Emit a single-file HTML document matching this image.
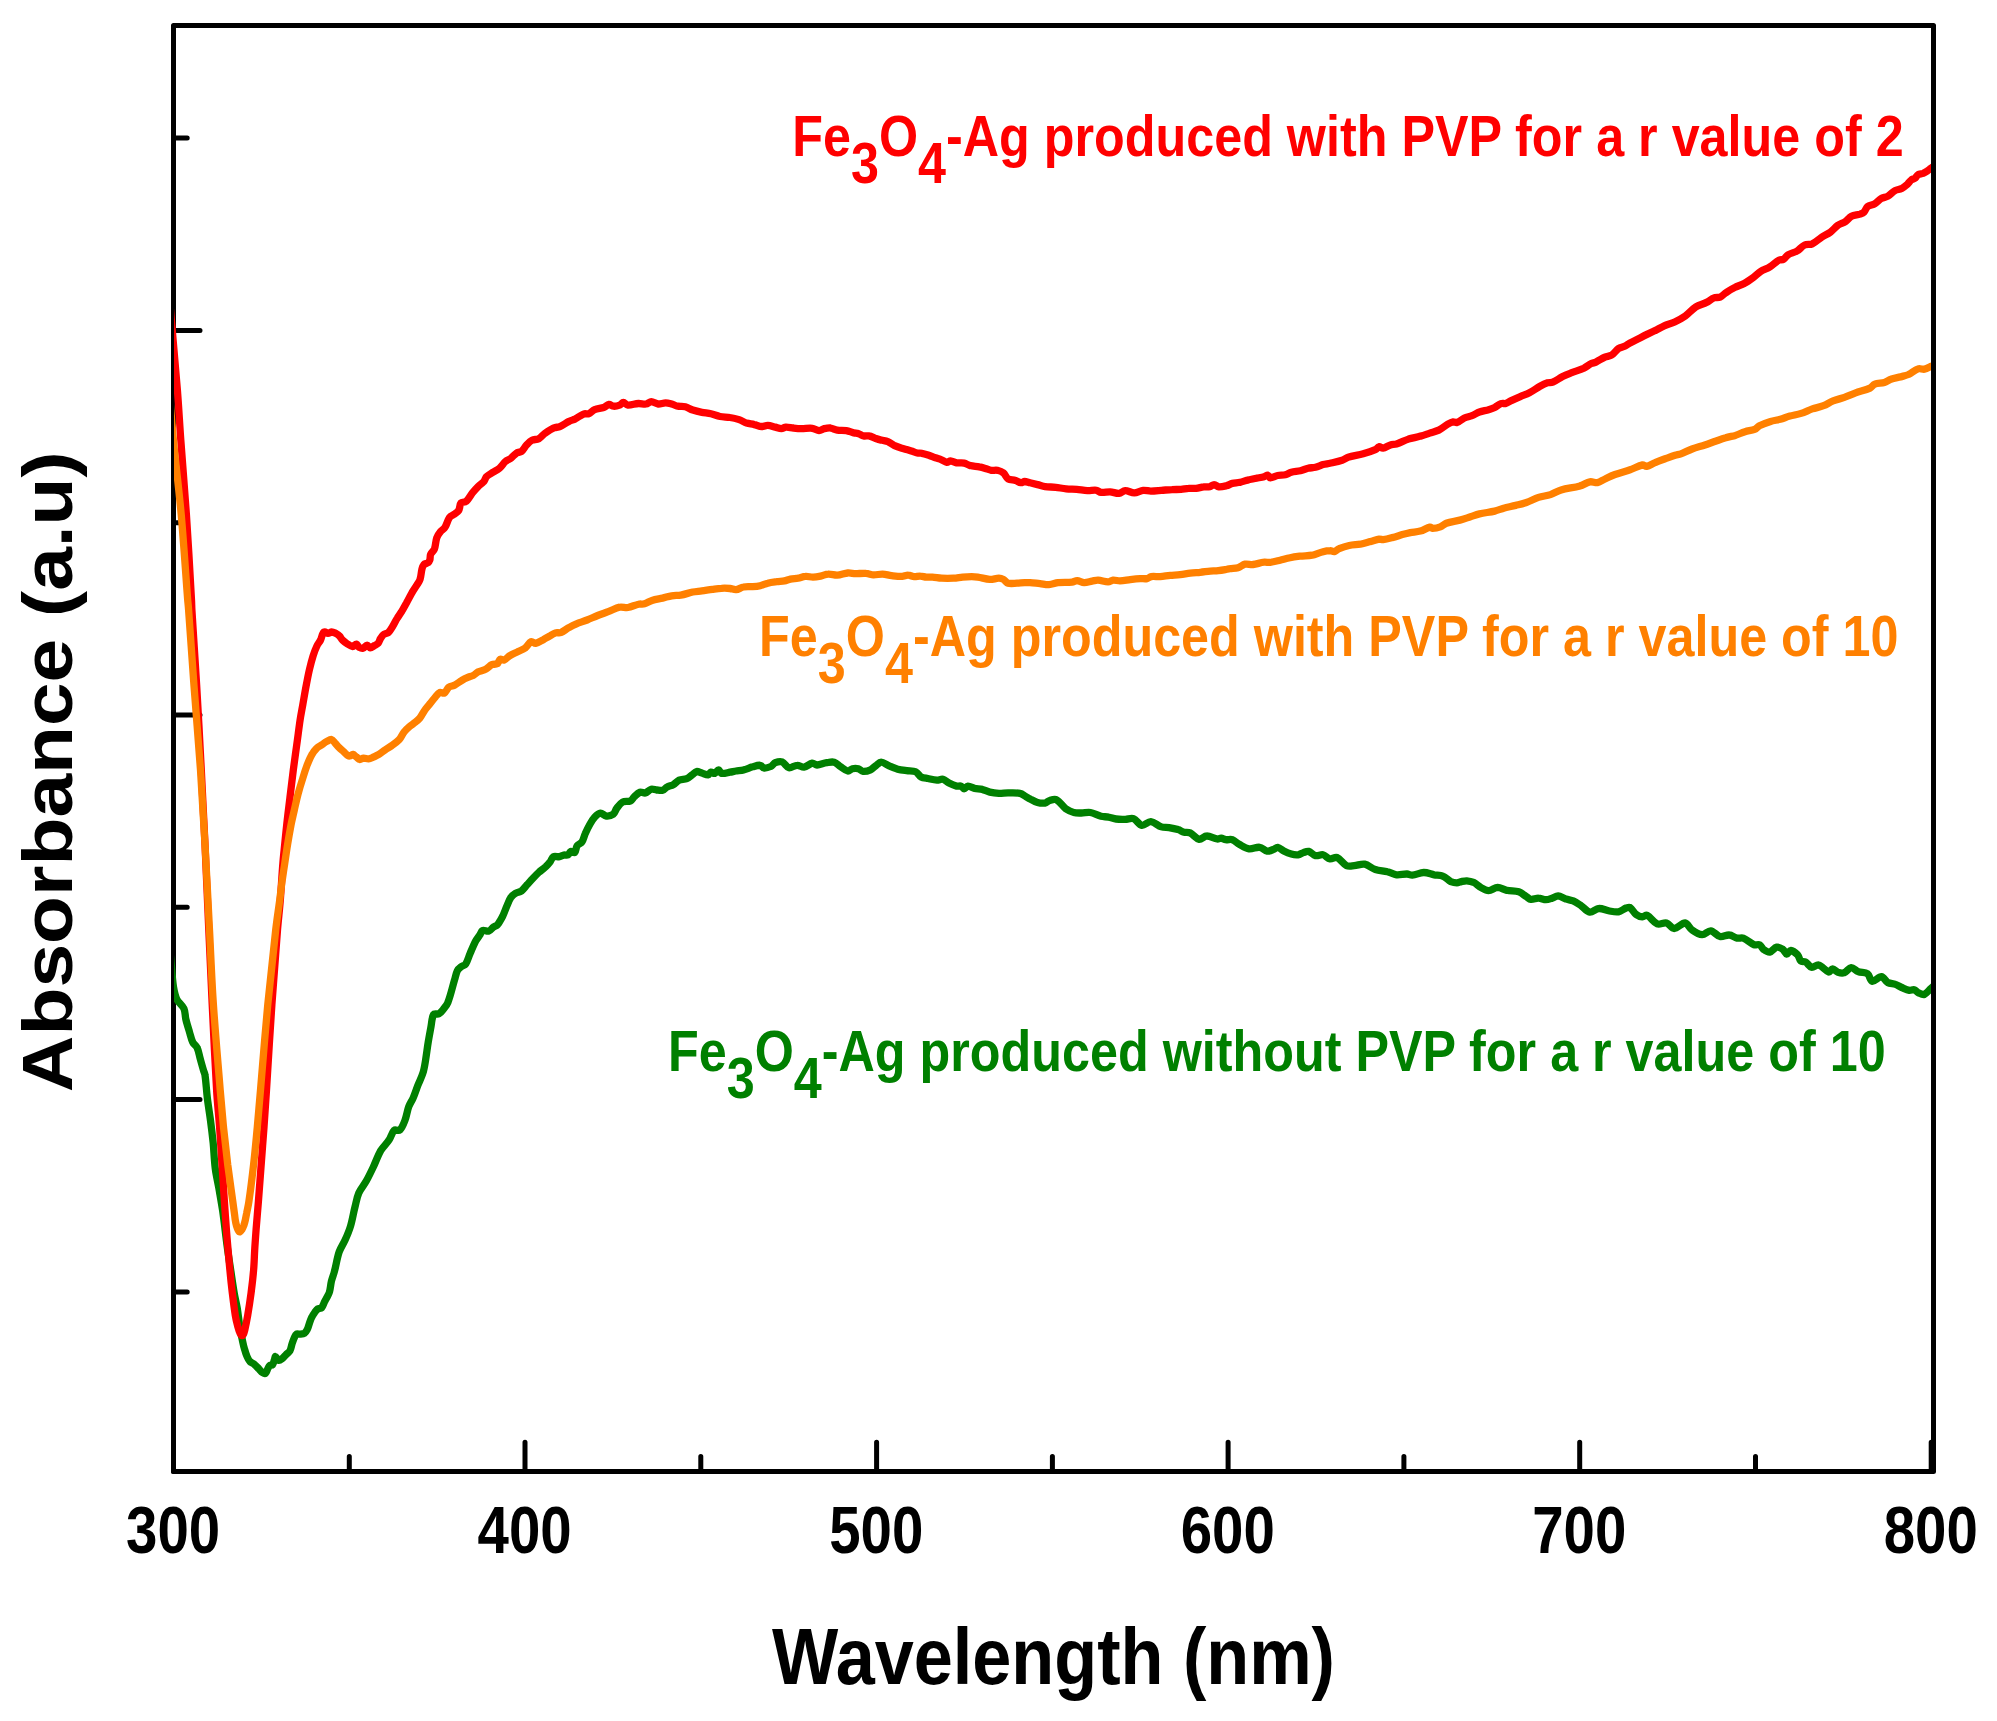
<!DOCTYPE html>
<html lang="en"><head><meta charset="utf-8"><title>UV-Vis absorbance of Fe3O4-Ag</title>
<style>html,body{margin:0;padding:0;background:#fff;}body{width:1997px;height:1721px;overflow:hidden;}svg{display:block;}text{font-family:"Liberation Sans",Arial,Helvetica,sans-serif;font-weight:bold;}</style>
</head><body>
<svg width="1997" height="1721" viewBox="0 0 1997 1721">
<rect x="0" y="0" width="1997" height="1721" fill="#fff"/>
<defs><clipPath id="plot"><rect x="174" y="26" width="1757" height="1445"/></clipPath></defs>
<rect x="173.5" y="25.5" width="1760.0" height="1446.0" fill="none" stroke="#000" stroke-width="5" stroke-linejoin="round"/>
<path d="M173.5,138.1 H187.2 M173.5,330.4 H200.0 M173.5,522.7 H187.2 M173.5,715.0 H200.0 M173.5,907.3 H187.2 M173.5,1099.6 H200.0 M173.5,1291.9 H187.2 M173.5,1471.5 V1442.3 M349.3,1471.5 V1456.4 M525.0,1471.5 V1442.3 M700.8,1471.5 V1456.4 M876.6,1471.5 V1442.3 M1052.4,1471.5 V1456.4 M1228.1,1471.5 V1442.3 M1403.9,1471.5 V1456.4 M1579.7,1471.5 V1442.3 M1755.5,1471.5 V1456.4 M1931.2,1471.5 V1442.3" fill="none" stroke="#000" stroke-width="5" stroke-linecap="round"/>
<path clip-path="url(#plot)" d="M168.2,938.1 C169.1,944.9 170.0,951.7 170.7,958.5 C171.7,968.0 172.1,977.6 173.5,987.0 C174.2,991.1 175.0,995.4 176.8,999.2 C178.5,1002.6 182.3,1005.0 183.9,1008.5 C185.4,1011.8 185.0,1015.9 185.9,1019.5 C186.9,1023.6 188.2,1027.7 189.4,1031.7 C190.5,1035.3 191.2,1039.0 192.8,1042.3 C193.8,1044.3 196.2,1045.5 197.1,1047.6 C198.7,1051.0 199.1,1054.9 200.2,1058.6 C201.2,1062.4 202.3,1066.2 203.4,1070.0 C203.9,1071.7 204.8,1073.4 205.0,1075.1 C206.1,1082.6 206.4,1090.3 207.3,1097.8 C208.2,1105.4 209.5,1112.9 210.5,1120.4 C211.5,1128.0 212.4,1135.5 213.2,1143.1 C214.0,1151.7 214.2,1160.3 215.3,1168.8 C216.1,1175.4 217.8,1181.9 218.9,1188.4 C220.2,1196.0 221.6,1203.5 222.7,1211.1 C224.3,1222.4 225.5,1233.7 227.0,1245.0 C228.1,1253.3 229.4,1261.7 230.7,1270.0 C231.9,1278.0 233.0,1286.1 234.4,1294.1 C235.2,1298.7 236.4,1303.2 237.2,1307.8 C238.2,1314.0 238.8,1320.4 239.8,1326.6 C240.6,1331.7 241.6,1336.7 242.7,1341.8 C243.2,1344.3 243.8,1346.8 244.6,1349.3 C245.3,1351.9 246.1,1354.4 247.2,1356.9 C247.9,1358.5 248.7,1360.2 249.8,1361.4 C251.1,1362.7 253.0,1363.3 254.4,1364.4 C256.0,1365.8 257.4,1367.4 258.9,1368.9 C260.2,1370.2 261.2,1371.8 262.7,1372.7 C263.5,1373.2 265.1,1373.6 265.7,1373.1 C266.8,1372.1 267.1,1369.8 268.0,1368.2 C268.5,1367.2 269.0,1366.0 269.9,1365.3 C270.5,1364.8 272.0,1365.4 272.5,1364.8 C273.5,1363.6 273.8,1361.5 274.4,1359.9 C274.8,1358.8 274.9,1356.4 275.5,1356.5 C276.3,1356.6 277.3,1359.8 278.6,1360.3 C279.5,1360.6 281.0,1359.5 281.9,1358.8 C283.5,1357.6 284.7,1356.0 286.1,1354.6 C287.4,1353.3 289.0,1352.3 289.9,1350.8 C291.1,1348.7 291.3,1346.0 292.1,1343.6 C292.8,1341.6 293.5,1339.6 294.4,1337.6 C294.9,1336.4 295.3,1334.7 296.3,1334.2 C297.3,1333.6 299.1,1334.4 300.4,1334.2 C301.9,1334.0 303.5,1333.8 304.6,1333.1 C305.7,1332.3 306.6,1330.9 307.2,1329.7 C308.3,1327.5 308.7,1325.1 309.5,1322.9 C310.2,1321.0 310.9,1319.0 311.8,1317.2 C312.6,1315.5 313.7,1313.8 314.8,1312.3 C315.7,1311.1 316.6,1309.7 317.8,1308.9 C318.9,1308.2 320.8,1308.6 321.6,1307.8 C323.0,1306.2 323.6,1303.7 324.6,1301.7 C325.6,1299.8 326.7,1298.0 327.6,1296.1 C328.3,1294.7 329.2,1293.4 329.5,1291.9 C330.4,1288.5 330.6,1284.8 331.4,1281.3 C332.2,1278.0 333.6,1274.8 334.4,1271.5 C336.2,1265.0 337.0,1258.2 339.2,1251.8 C340.6,1247.6 343.4,1243.9 345.2,1239.8 C347.2,1235.3 349.1,1230.8 350.5,1226.2 C352.4,1219.7 353.4,1213.0 355.1,1206.5 C356.2,1202.0 356.9,1197.2 358.8,1192.9 C360.7,1188.6 364.1,1185.0 366.4,1180.8 C368.8,1176.4 371.0,1171.8 373.2,1167.2 C375.8,1161.8 377.7,1155.9 380.7,1150.6 C383.0,1146.8 386.6,1143.8 389.0,1140.1 C391.1,1137.0 391.9,1132.5 394.3,1130.2 C395.5,1129.2 398.5,1131.3 399.6,1130.2 C402.0,1128.0 403.6,1123.9 404.9,1120.4 C406.6,1116.1 407.1,1111.2 408.7,1106.8 C409.8,1103.7 411.9,1100.9 413.2,1097.8 C414.9,1093.8 416.2,1089.7 417.7,1085.7 C419.4,1081.4 421.7,1077.2 423.0,1072.8 C424.3,1068.7 424.9,1064.3 425.6,1060.0 C426.6,1053.9 427.3,1047.8 428.3,1041.7 C429.1,1036.6 430.1,1031.6 431.0,1026.6 C431.8,1022.5 431.8,1017.5 433.6,1014.5 C434.4,1013.2 437.4,1014.6 438.9,1013.8 C440.7,1012.8 442.1,1010.9 443.4,1009.2 C445.1,1007.1 447.0,1004.9 447.9,1002.4 C450.7,995.2 452.3,987.5 454.5,980.0 C455.5,976.9 456.0,973.4 457.4,970.6 C458.3,968.9 460.0,967.7 461.5,966.5 C462.7,965.6 464.8,965.5 465.6,964.2 C467.7,961.0 468.6,956.8 470.2,953.2 C471.9,949.3 473.5,945.3 475.4,941.5 C476.7,939.1 478.6,936.9 480.1,934.6 C480.9,933.2 481.2,931.0 482.4,930.5 C484.1,929.8 486.9,931.7 488.8,931.1 C490.6,930.5 491.8,928.2 493.5,927.0 C494.7,926.1 496.5,925.8 497.5,924.7 C499.6,922.2 501.2,919.0 502.8,916.0 C504.3,912.8 505.4,909.4 506.8,906.1 C508.1,903.2 509.1,900.0 510.9,897.4 C512.0,895.7 513.8,894.4 515.5,893.3 C517.3,892.2 519.7,892.2 521.4,891.0 C523.6,889.3 525.2,886.7 527.2,884.6 C529.1,882.5 531.0,880.3 533.0,878.2 C534.9,876.2 536.8,874.2 538.8,872.4 C541.0,870.4 543.6,868.7 545.8,866.6 C547.4,865.0 549.0,863.2 550.4,861.4 C551.5,859.9 551.9,857.4 553.3,856.7 C555.0,855.9 557.6,857.0 559.7,856.7 C561.1,856.5 562.4,855.3 563.8,855.0 C565.1,854.7 566.7,855.5 567.8,855.0 C569.1,854.3 569.5,851.9 570.7,851.5 C571.9,851.1 574.0,853.3 574.8,852.6 C576.2,851.4 575.8,847.6 577.1,845.7 C578.2,844.1 580.7,843.7 581.8,842.2 C583.5,839.7 584.0,836.3 585.3,833.5 C586.7,830.3 588.2,827.2 589.9,824.2 C591.3,821.7 592.7,819.2 594.6,817.2 C596.2,815.5 598.3,813.3 600.4,813.1 C602.2,812.9 604.2,815.8 606.2,816.0 C608.4,816.2 611.4,815.6 613.2,814.3 C614.9,813.1 615.3,810.3 616.6,808.5 C618.4,806.2 620.1,803.4 622.5,802.1 C624.7,800.9 628.2,802.0 630.6,800.9 C632.1,800.2 632.8,798.1 634.1,796.9 C635.9,795.2 637.8,793.0 640.0,792.2 C641.5,791.7 643.7,793.4 645.3,793.0 C647.4,792.4 649.1,789.8 651.3,789.2 C652.9,788.8 654.8,789.8 656.6,790.0 C658.6,790.2 660.8,790.8 662.6,790.3 C664.3,789.8 665.5,787.8 667.2,787.0 C669.0,786.0 671.3,785.7 673.2,784.7 C675.4,783.5 677.0,781.1 679.2,780.1 C681.5,779.1 684.5,779.6 686.8,778.6 C688.8,777.8 690.3,776.1 692.1,774.9 C693.6,773.8 695.0,771.8 696.6,771.5 C698.2,771.2 700.1,772.5 701.9,773.0 C703.9,773.6 706.1,775.0 708.0,774.9 C709.1,774.7 709.8,772.4 711.0,772.1 C712.1,771.9 713.6,773.7 714.7,773.4 C716.1,773.0 717.3,770.0 718.5,770.0 C719.6,770.0 720.2,773.1 721.5,773.4 C724.0,773.8 727.2,772.7 730.0,772.2 C732.0,771.9 734.0,771.3 736.0,771.0 C738.5,770.6 741.1,770.6 743.6,769.9 C746.7,769.2 749.6,767.6 752.7,766.8 C755.1,766.1 757.9,765.0 760.2,765.3 C761.6,765.4 762.6,767.8 764.0,768.0 C766.1,768.2 768.7,767.4 770.8,766.5 C772.5,765.7 773.6,763.4 775.3,762.7 C777.3,761.9 780.1,761.2 782.1,761.9 C784.7,762.9 786.4,767.1 788.9,767.7 C791.4,768.2 794.4,765.3 797.2,765.3 C799.5,765.2 801.8,767.5 804.0,767.2 C806.9,766.8 809.5,763.6 812.3,763.1 C813.8,762.9 815.3,765.0 816.9,765.0 C820.1,764.8 823.4,763.2 826.7,762.7 C829.2,762.3 831.9,761.6 834.2,762.2 C836.5,762.9 838.2,765.1 840.3,766.5 C842.7,768.1 845.3,770.5 847.8,771.0 C849.3,771.3 850.7,769.1 852.4,768.7 C854.3,768.3 856.5,768.3 858.4,768.7 C860.0,769.1 861.3,771.2 862.9,771.3 C865.3,771.5 868.2,770.8 870.5,769.8 C872.5,768.9 874.0,767.0 875.8,765.7 C877.5,764.5 879.2,762.2 881.1,762.2 C883.5,762.2 886.1,764.6 888.6,765.7 C891.6,767.0 894.6,768.3 897.7,769.2 C900.6,770.0 903.7,770.3 906.7,770.7 C909.7,771.1 913.2,770.6 915.8,771.8 C918.0,772.7 919.0,775.9 921.1,777.0 C923.0,778.1 925.6,778.1 927.9,778.5 C930.9,779.1 933.9,779.9 937.0,780.1 C939.0,780.2 941.1,778.8 943.0,779.3 C945.2,779.9 946.9,782.0 949.0,783.1 C951.4,784.3 954.0,785.5 956.6,786.1 C958.0,786.5 959.8,785.6 961.1,786.1 C962.3,786.5 963.1,788.8 964.1,788.8 C965.4,788.8 966.5,786.2 967.9,786.1 C970.1,786.0 972.4,787.8 974.7,788.4 C977.2,788.9 979.8,788.8 982.3,789.4 C984.9,790.1 987.2,791.5 989.8,792.1 C992.8,792.8 995.8,793.2 998.9,793.4 C1001.9,793.5 1004.9,792.9 1008.0,792.9 C1012.0,792.9 1016.2,792.5 1020.0,793.4 C1022.2,793.8 1024.1,795.6 1026.1,796.7 C1027.4,797.4 1028.6,798.3 1030.0,798.9 C1032.5,800.2 1034.9,801.7 1037.5,802.4 C1040.0,803.1 1042.7,803.4 1045.1,803.0 C1046.8,802.8 1048.0,800.9 1049.6,800.5 C1051.8,799.8 1054.6,798.7 1056.4,799.7 C1060.1,801.6 1062.7,806.4 1066.2,809.1 C1068.5,810.7 1071.2,811.9 1073.8,812.5 C1076.2,813.2 1078.8,813.0 1081.4,813.0 C1084.4,813.0 1087.5,812.0 1090.4,812.5 C1094.0,813.2 1097.4,815.4 1101.0,816.3 C1103.4,816.9 1106.1,816.6 1108.5,817.1 C1111.1,817.5 1113.5,818.7 1116.1,819.0 C1119.1,819.4 1122.2,819.4 1125.2,819.3 C1127.9,819.3 1131.1,817.7 1133.5,818.6 C1136.6,819.7 1138.8,824.9 1141.8,825.4 C1144.5,825.9 1147.9,821.4 1150.8,821.6 C1154.4,821.9 1157.7,825.7 1161.4,826.9 C1163.8,827.7 1166.5,827.2 1169.0,827.6 C1172.0,828.1 1175.1,828.7 1178.0,829.6 C1180.1,830.2 1182.0,831.6 1184.1,832.2 C1186.0,832.7 1188.3,832.1 1190.1,832.9 C1193.4,834.5 1196.0,838.7 1199.2,839.3 C1201.5,839.7 1204.1,836.0 1206.7,836.0 C1210.2,835.9 1213.8,838.4 1217.3,839.0 C1218.6,839.2 1219.9,838.1 1221.1,838.2 C1222.6,838.4 1224.1,839.5 1225.6,839.7 C1227.8,840.0 1230.4,839.0 1232.4,839.7 C1234.9,840.6 1236.8,843.0 1239.2,844.3 C1242.4,846.0 1245.6,848.3 1249.0,848.8 C1252.4,849.3 1256.2,846.9 1259.6,847.3 C1262.3,847.6 1264.6,850.6 1267.2,851.1 C1269.1,851.4 1271.3,850.2 1273.2,849.5 C1274.8,849.0 1276.3,847.1 1277.7,847.3 C1279.8,847.6 1281.7,850.0 1283.8,851.1 C1286.2,852.3 1288.7,853.4 1291.3,854.1 C1293.5,854.7 1295.9,855.1 1298.1,854.8 C1300.0,854.6 1301.6,853.2 1303.4,852.6 C1305.1,852.0 1307.1,851.0 1308.7,851.4 C1311.1,852.0 1313.0,855.0 1315.5,855.6 C1317.8,856.2 1320.7,854.3 1323.0,854.8 C1325.5,855.4 1327.5,858.5 1330.0,858.9 C1332.1,859.3 1334.9,856.6 1336.8,857.4 C1340.4,858.9 1343.0,864.0 1346.6,865.7 C1348.8,866.7 1351.7,865.9 1354.2,865.7 C1357.7,865.4 1361.4,863.6 1364.7,864.2 C1368.4,864.9 1371.6,868.3 1375.3,869.5 C1379.2,870.8 1383.4,870.8 1387.4,871.8 C1390.5,872.5 1393.4,874.4 1396.5,874.8 C1399.9,875.2 1403.5,873.9 1407.0,874.0 C1408.8,874.1 1410.6,875.4 1412.3,875.2 C1416.1,874.9 1419.9,872.6 1423.7,872.5 C1427.2,872.4 1430.7,874.1 1434.2,874.8 C1437.2,875.3 1440.5,875.1 1443.3,876.3 C1446.1,877.4 1448.1,880.3 1450.8,881.6 C1452.7,882.4 1454.9,882.8 1456.9,882.8 C1458.4,882.8 1459.9,881.9 1461.4,881.6 C1463.2,881.2 1465.0,880.7 1466.7,880.8 C1469.0,881.0 1471.4,881.4 1473.5,882.3 C1476.2,883.6 1478.4,886.1 1481.1,887.6 C1483.4,888.9 1486.1,890.7 1488.6,890.6 C1491.6,890.6 1494.6,887.4 1497.7,887.3 C1500.7,887.3 1503.6,889.7 1506.7,890.3 C1510.7,891.2 1515.1,890.6 1518.8,891.8 C1521.6,892.7 1523.8,895.1 1526.4,896.7 C1527.9,897.6 1529.3,899.2 1530.9,899.4 C1533.3,899.7 1536.0,898.1 1538.5,898.2 C1541.0,898.2 1543.5,899.7 1546.0,899.7 C1548.0,899.7 1550.1,898.8 1552.0,898.2 C1554.1,897.5 1556.1,895.8 1558.1,895.9 C1560.6,896.1 1563.1,898.1 1565.7,898.9 C1568.1,899.8 1570.8,899.9 1573.2,900.9 C1575.9,902.1 1578.3,903.8 1580.8,905.4 C1583.9,907.5 1586.6,911.5 1589.8,912.1 C1592.6,912.5 1595.8,908.6 1598.9,908.5 C1602.3,908.3 1605.9,910.4 1609.5,911.0 C1612.4,911.5 1615.6,912.3 1618.5,911.8 C1621.2,911.3 1623.5,909.0 1626.1,908.0 C1627.3,907.6 1629.0,906.9 1630.0,907.5 C1632.4,909.1 1633.8,912.7 1636.2,914.5 C1637.9,915.8 1640.3,916.7 1642.4,916.8 C1644.0,917.0 1645.7,914.7 1647.1,915.3 C1650.7,917.0 1653.4,922.3 1657.2,923.8 C1659.8,924.9 1663.7,922.3 1666.5,923.0 C1669.3,923.8 1671.5,928.5 1674.2,928.5 C1677.7,928.5 1681.8,922.8 1685.1,923.0 C1687.8,923.3 1689.4,928.2 1692.1,930.0 C1695.1,932.1 1698.8,934.5 1702.2,934.7 C1705.0,934.8 1708.0,930.5 1710.7,930.8 C1713.9,931.1 1716.7,935.8 1720.0,936.5 C1722.9,937.2 1726.3,934.7 1729.3,935.0 C1732.0,935.2 1734.4,937.5 1737.1,938.1 C1739.1,938.6 1741.5,937.4 1743.3,938.1 C1747.1,939.6 1750.4,943.2 1754.2,944.8 C1755.8,945.4 1758.2,944.0 1759.6,944.8 C1761.3,945.6 1761.9,948.3 1763.5,949.4 C1765.3,950.7 1767.8,952.4 1769.7,952.1 C1772.2,951.6 1774.2,947.6 1776.7,947.1 C1778.6,946.7 1781.1,948.2 1782.9,949.4 C1784.5,950.6 1785.4,953.9 1786.8,954.1 C1788.0,954.3 1789.2,950.4 1790.7,950.5 C1792.9,950.7 1795.8,953.0 1797.7,954.9 C1799.2,956.5 1799.2,959.7 1800.8,961.1 C1801.8,962.0 1804.1,961.1 1805.4,961.9 C1807.7,963.2 1809.3,966.7 1811.6,967.3 C1813.7,967.8 1816.5,964.4 1818.6,965.0 C1822.2,965.9 1825.4,971.0 1828.7,972.0 C1830.0,972.3 1831.2,968.8 1832.6,968.8 C1834.3,968.9 1836.0,971.6 1838.0,972.3 C1839.9,972.9 1842.4,973.4 1844.2,972.7 C1846.8,971.8 1848.8,967.8 1851.2,967.6 C1853.4,967.4 1855.7,970.7 1858.2,971.6 C1861.1,972.8 1865.1,972.1 1867.5,973.8 C1869.7,975.3 1870.0,980.8 1872.2,981.3 C1874.7,981.8 1878.6,976.4 1881.5,976.6 C1883.8,976.8 1885.3,981.2 1887.7,982.5 C1889.9,983.8 1893.0,983.5 1895.5,984.4 C1897.6,985.1 1899.5,986.6 1901.7,987.5 C1904.2,988.5 1906.8,989.8 1909.4,990.3 C1910.9,990.5 1912.7,989.4 1914.1,989.8 C1915.8,990.3 1917.1,992.1 1918.7,992.9 C1920.4,993.7 1922.6,995.0 1924.2,994.5 C1926.7,993.5 1928.8,990.3 1931.2,988.2 C1933.1,986.5 1935.0,984.8 1937.0,983.1" fill="none" stroke="#008000" stroke-width="7.3" stroke-linejoin="round" stroke-linecap="butt"/>
<path clip-path="url(#plot)" d="M166.0,257.5 C167.4,274.3 168.9,291.0 170.3,307.8 C172.7,335.2 175.2,362.6 177.4,390.0 C178.7,406.7 179.6,423.3 180.8,440.0 C182.6,464.8 184.7,489.6 186.4,514.4 C188.3,542.9 189.9,571.5 191.5,600.0 C191.7,603.3 191.7,606.7 191.9,610.0 C193.4,634.8 195.1,659.6 196.6,684.4 C198.3,712.9 199.8,741.5 201.3,770.0 C202.6,794.8 203.8,819.6 205.0,844.4 C206.3,872.9 207.5,901.5 208.8,930.0 C209.9,954.8 211.0,979.6 212.2,1004.4 C213.6,1032.9 214.9,1061.5 216.6,1090.0 C217.3,1102.4 218.7,1114.8 219.6,1127.2 C220.5,1139.6 221.2,1152.0 222.0,1164.4 C222.8,1176.8 223.6,1189.2 224.4,1201.6 C225.0,1210.9 225.7,1220.1 226.4,1229.4 C226.9,1236.3 227.5,1243.1 228.1,1250.0 C228.7,1256.7 229.2,1263.3 229.9,1270.0 C230.6,1277.6 231.4,1285.1 232.3,1292.7 C233.2,1300.2 234.1,1307.8 235.3,1315.3 C235.9,1319.1 236.8,1322.9 237.8,1326.6 C238.4,1328.9 239.1,1331.4 240.2,1333.5 C240.6,1334.4 241.6,1335.6 242.3,1335.7 C242.8,1335.8 243.3,1334.6 243.6,1334.0 C244.1,1332.9 244.4,1331.6 244.7,1330.4 C245.8,1325.4 246.8,1320.4 247.7,1315.3 C249.0,1307.8 250.1,1300.3 251.1,1292.7 C252.1,1285.2 253.0,1277.6 253.6,1270.0 C254.2,1263.3 254.3,1256.7 254.7,1250.0 C255.1,1243.1 255.6,1236.3 256.1,1229.4 C256.8,1220.1 257.7,1210.9 258.4,1201.6 C259.4,1189.2 260.3,1176.8 261.2,1164.4 C262.1,1152.0 263.1,1139.6 264.0,1127.2 C264.9,1114.8 265.7,1102.4 266.5,1090.0 C268.3,1061.5 269.9,1032.9 271.9,1004.4 C273.6,979.6 275.5,954.8 277.5,930.0 C278.3,920.0 279.5,910.1 280.3,900.1 C281.3,887.7 281.9,875.4 282.9,863.0 C283.4,856.8 284.1,850.6 284.7,844.4 C285.3,838.2 285.9,832.0 286.6,825.8 C287.6,816.5 288.8,807.2 289.9,797.9 C291.0,788.6 292.1,779.3 293.3,770.0 C294.0,764.8 294.7,759.6 295.4,754.4 C296.1,749.6 296.7,744.9 297.4,740.1 C298.3,733.4 299.1,726.7 300.1,720.0 C300.9,714.7 302.0,709.4 302.9,704.1 C304.0,697.9 305.0,691.7 306.2,685.5 C307.2,680.2 308.2,674.9 309.4,669.7 C310.5,665.0 311.7,660.3 313.1,655.8 C314.2,652.4 315.4,649.1 316.9,646.0 C317.9,643.9 319.5,642.1 320.6,640.0 C321.6,637.9 321.8,635.4 322.9,633.4 C323.2,632.8 324.1,632.0 324.8,632.0 C325.8,632.0 326.9,633.4 328.0,633.4 C329.2,633.4 330.5,632.0 331.7,632.0 C333.1,632.0 334.6,632.8 335.9,633.4 C337.3,634.2 338.5,635.1 339.6,636.2 C340.7,637.3 341.3,638.9 342.4,640.0 C343.8,641.3 345.4,642.6 347.1,643.7 C348.8,644.8 350.8,646.4 352.6,646.5 C353.9,646.5 355.3,644.0 356.4,644.1 C357.4,644.3 358.0,646.6 359.1,647.4 C360.2,648.0 361.8,648.6 362.9,648.3 C364.4,647.9 365.7,645.1 367.1,645.1 C368.2,645.0 369.1,647.8 370.3,647.9 C371.6,647.9 373.1,646.3 374.5,645.5 C375.7,644.8 377.3,644.3 378.2,643.2 C379.3,641.9 379.6,640.0 380.5,638.5 C381.5,637.1 382.4,635.4 383.8,634.4 C385.1,633.4 387.2,633.6 388.4,632.5 C390.2,630.9 391.3,628.6 392.6,626.5 C394.3,623.8 395.6,620.8 397.3,618.1 C398.7,615.7 400.5,613.5 401.9,611.1 C403.6,608.4 405.0,605.6 406.6,602.8 C408.4,599.4 410.2,595.9 412.1,592.5 C413.6,590.0 415.3,587.6 416.8,585.1 C417.9,583.3 419.4,581.5 420.0,579.5 C421.1,576.3 421.1,572.6 421.9,569.3 C422.3,567.7 422.7,565.8 423.8,564.6 C424.7,563.6 426.8,563.7 427.9,562.8 C428.8,562.1 429.5,561.0 429.8,560.0 C430.4,558.2 429.9,556.1 430.6,554.4 C431.4,552.4 433.6,551.1 434.4,549.1 C435.7,545.5 435.5,541.3 436.8,537.7 C437.6,535.5 439.1,533.5 440.6,531.6 C441.9,530.0 444.0,528.9 445.1,527.1 C447.0,524.1 447.6,520.1 449.6,517.3 C450.7,515.8 452.7,515.3 454.2,514.3 C455.7,513.1 457.7,512.1 458.7,510.5 C460.0,508.3 459.5,504.7 461.0,502.9 C462.0,501.7 464.9,502.6 466.2,501.4 C468.7,499.3 470.2,495.8 472.3,493.1 C474.2,490.7 476.2,488.4 478.3,486.3 C480.0,484.7 482.2,483.5 483.6,481.8 C484.9,480.3 485.3,477.9 486.6,476.5 C488.3,474.8 490.7,473.7 492.7,472.4 C494.9,471.0 497.5,469.9 499.5,468.2 C501.8,466.2 503.3,463.4 505.5,461.4 C507.0,460.1 509.2,459.6 510.8,458.4 C513.0,456.7 514.6,454.2 516.9,452.8 C518.1,452.0 520.2,452.5 521.4,451.6 C523.5,449.8 524.7,446.9 526.7,444.8 C528.3,443.1 529.9,441.2 532.0,440.2 C534.0,439.2 536.8,439.8 538.8,438.7 C541.1,437.5 542.6,435.0 544.8,433.4 C547.7,431.4 550.7,429.3 553.9,427.9 C555.7,427.0 558.0,427.5 559.9,426.6 C563.1,425.3 565.9,422.9 569.0,421.4 C570.9,420.4 573.1,420.0 575.0,419.1 C578.1,417.5 580.9,415.0 584.1,413.8 C585.4,413.3 587.3,414.3 588.6,413.8 C590.8,412.9 592.4,410.5 594.6,409.6 C597.5,408.4 600.8,408.5 603.7,407.5 C605.6,406.8 607.2,404.7 609.0,404.4 C610.5,404.3 612.0,406.2 613.5,406.2 C615.5,406.4 617.7,405.8 619.6,405.1 C621.0,404.5 622.1,402.5 623.4,402.5 C624.8,402.5 626.2,404.9 627.9,405.1 C631.3,405.3 634.9,403.7 638.5,403.5 C641.0,403.4 643.6,404.3 646.0,404.0 C647.9,403.7 649.5,401.7 651.3,401.7 C653.5,401.7 655.8,403.8 658.1,404.0 C660.6,404.2 663.1,402.9 665.6,402.9 C667.7,402.9 669.7,403.5 671.7,404.0 C673.8,404.6 675.6,405.8 677.7,406.2 C680.2,406.7 682.9,406.1 685.3,406.7 C687.9,407.4 690.2,409.2 692.8,410.0 C695.8,411.0 698.9,411.7 701.9,412.3 C704.9,412.9 708.0,413.1 711.0,413.8 C714.0,414.5 716.9,415.9 720.0,416.5 C723.3,417.2 726.7,416.9 730.0,417.5 C733.1,417.9 736.1,418.6 739.1,419.6 C741.7,420.5 744.0,422.2 746.6,423.1 C749.0,423.8 751.7,424.0 754.2,424.6 C756.7,425.1 759.2,426.4 761.7,426.5 C763.7,426.6 765.8,425.2 767.8,425.3 C770.3,425.4 772.8,426.5 775.3,427.1 C777.3,427.6 779.4,428.6 781.4,428.6 C782.9,428.6 784.3,427.2 785.9,427.1 C788.4,427.0 790.9,427.8 793.4,428.0 C796.0,428.3 798.5,428.6 801.0,428.6 C804.8,428.7 808.6,427.9 812.3,428.3 C814.7,428.6 816.9,430.5 819.1,430.6 C820.9,430.6 822.6,429.1 824.4,428.6 C826.4,428.2 828.5,427.8 830.5,428.0 C832.8,428.3 834.9,429.8 837.2,430.1 C840.2,430.6 843.3,430.1 846.3,430.6 C848.9,431.0 851.3,432.2 853.9,432.9 C855.4,433.2 856.9,433.2 858.4,433.6 C860.2,434.2 861.9,435.5 863.7,435.9 C865.4,436.3 867.3,435.5 869.0,435.9 C871.0,436.3 873.0,437.4 875.0,438.2 C877.0,438.9 879.0,439.6 881.1,440.1 C883.3,440.7 885.7,440.8 887.9,441.6 C890.3,442.6 892.3,444.6 894.6,445.7 C897.5,447.0 900.7,447.8 903.7,448.7 C906.2,449.5 908.8,450.2 911.3,451.0 C913.3,451.6 915.3,452.5 917.3,453.0 C918.8,453.3 920.4,452.9 921.8,453.3 C924.4,453.8 926.9,454.7 929.4,455.5 C931.4,456.2 933.4,457.1 935.4,457.8 C937.4,458.5 939.5,459.0 941.5,459.8 C943.3,460.5 945.0,462.1 946.8,462.3 C948.0,462.5 949.3,460.8 950.5,460.8 C952.5,460.9 954.5,462.4 956.6,462.8 C959.1,463.2 961.7,462.6 964.1,463.1 C966.2,463.5 968.1,465.1 970.2,465.6 C973.1,466.4 976.2,466.3 979.2,466.9 C981.3,467.2 983.3,467.8 985.3,468.4 C987.3,469.0 989.3,470.0 991.3,470.3 C993.3,470.6 995.4,469.9 997.4,470.3 C999.5,470.8 1001.8,471.6 1003.4,472.9 C1005.3,474.4 1006.0,477.7 1008.0,478.9 C1010.0,480.2 1013.1,479.7 1015.5,480.4 C1017.3,481.0 1019.0,482.5 1020.8,482.7 C1022.0,482.9 1023.3,481.5 1024.6,481.5 C1026.4,481.5 1028.2,482.4 1030.0,482.8 C1032.5,483.4 1035.0,484.0 1037.5,484.6 C1040.1,485.2 1042.5,486.2 1045.1,486.6 C1048.6,487.1 1052.2,486.9 1055.7,487.3 C1059.2,487.7 1062.7,488.5 1066.2,488.8 C1069.8,489.2 1073.3,489.1 1076.8,489.4 C1080.4,489.7 1083.9,490.5 1087.4,490.6 C1090.4,490.8 1093.5,489.9 1096.5,490.3 C1098.1,490.5 1099.4,492.3 1101.0,492.4 C1103.9,492.8 1107.1,491.7 1110.1,491.8 C1113.1,492.0 1116.2,493.6 1119.1,493.4 C1121.2,493.2 1123.1,490.7 1125.2,490.6 C1128.1,490.5 1131.2,492.9 1134.2,492.9 C1137.3,492.8 1140.2,490.7 1143.3,490.3 C1145.8,490.1 1148.3,491.1 1150.8,491.1 C1154.4,491.1 1157.9,490.6 1161.4,490.3 C1164.9,490.1 1168.5,489.7 1172.0,489.6 C1175.0,489.4 1178.0,489.6 1181.1,489.4 C1183.6,489.2 1186.1,488.5 1188.6,488.4 C1191.1,488.2 1193.7,488.6 1196.2,488.4 C1198.7,488.1 1201.2,487.2 1203.7,486.9 C1205.7,486.6 1207.8,487.0 1209.8,486.6 C1211.3,486.2 1212.8,484.5 1214.3,484.6 C1215.8,484.6 1217.2,486.7 1218.8,486.9 C1221.2,487.1 1223.9,486.4 1226.4,485.8 C1228.5,485.3 1230.3,483.9 1232.4,483.4 C1234.9,482.8 1237.5,482.9 1240.0,482.3 C1242.5,481.8 1245.0,480.7 1247.5,480.1 C1250.5,479.3 1253.6,478.9 1256.6,478.2 C1259.1,477.7 1261.7,477.4 1264.1,476.7 C1265.4,476.4 1266.8,475.0 1267.9,475.2 C1268.8,475.4 1269.2,477.8 1270.2,477.8 C1272.5,477.9 1275.2,476.0 1277.7,475.5 C1280.2,475.0 1282.9,475.4 1285.3,474.8 C1287.4,474.3 1289.2,472.8 1291.3,472.2 C1294.3,471.4 1297.4,471.4 1300.4,470.7 C1303.0,470.1 1305.4,468.9 1308.0,468.3 C1310.4,467.7 1313.0,467.8 1315.5,467.2 C1318.1,466.6 1320.5,465.3 1323.0,464.6 C1325.3,464.0 1327.7,463.8 1330.0,463.3 C1334.0,462.4 1338.2,461.6 1342.1,460.3 C1344.2,459.6 1346.0,457.9 1348.1,457.3 C1353.0,455.8 1358.3,455.2 1363.2,453.8 C1367.3,452.7 1371.5,451.4 1375.3,449.7 C1376.8,449.1 1377.7,447.0 1379.1,446.7 C1380.2,446.5 1381.6,448.4 1382.9,448.2 C1385.4,447.8 1387.8,445.7 1390.4,444.9 C1392.3,444.3 1394.5,444.6 1396.5,444.0 C1400.6,442.7 1404.4,440.5 1408.5,439.1 C1412.5,437.9 1416.6,437.3 1420.6,436.1 C1423.7,435.3 1426.7,434.1 1429.7,433.1 C1432.7,432.1 1435.9,431.5 1438.8,430.1 C1442.0,428.5 1444.7,425.9 1447.8,424.1 C1449.5,423.1 1451.3,422.1 1453.1,421.8 C1454.3,421.6 1455.7,422.9 1456.9,422.5 C1459.5,421.7 1461.8,419.2 1464.4,418.0 C1466.8,416.9 1469.6,416.7 1472.0,415.7 C1474.6,414.7 1476.9,412.9 1479.5,412.0 C1482.5,410.9 1485.6,410.6 1488.6,409.7 C1490.7,409.1 1492.7,408.4 1494.7,407.4 C1496.8,406.4 1498.5,404.4 1500.7,403.7 C1502.3,403.1 1504.3,403.8 1506.0,403.4 C1507.8,402.8 1509.5,401.5 1511.3,400.6 C1514.3,399.2 1517.3,397.9 1520.3,396.6 C1523.3,395.3 1526.5,394.3 1529.4,392.8 C1533.1,390.9 1536.4,388.3 1540.0,386.3 C1542.4,384.9 1544.9,383.6 1547.5,382.8 C1549.2,382.3 1551.2,382.9 1552.8,382.2 C1556.2,380.8 1559.3,378.2 1562.6,376.5 C1565.5,375.0 1568.6,373.9 1571.7,372.7 C1575.7,371.1 1579.9,370.0 1583.8,368.2 C1586.4,366.9 1588.7,364.9 1591.3,363.6 C1592.7,362.9 1594.4,362.8 1595.9,362.1 C1599.0,360.6 1601.8,358.5 1604.9,357.1 C1607.1,356.2 1609.8,356.3 1611.7,355.0 C1614.3,353.4 1616.0,350.3 1618.5,348.5 C1620.3,347.3 1622.6,347.2 1624.6,346.2 C1626.5,345.3 1628.1,343.9 1630.0,342.9 C1633.3,341.2 1636.7,339.6 1640.0,337.9 C1642.5,336.6 1645.0,335.3 1647.5,334.1 C1650.1,332.9 1652.6,331.9 1655.1,330.6 C1658.2,329.1 1661.0,327.2 1664.2,325.8 C1667.6,324.3 1671.4,323.6 1674.7,322.0 C1678.4,320.3 1682.0,318.3 1685.3,316.0 C1689.1,313.3 1692.0,309.4 1695.9,306.9 C1699.1,304.9 1703.0,304.1 1706.5,302.4 C1709.1,301.1 1711.3,298.9 1714.0,297.9 C1715.9,297.1 1718.3,297.9 1720.1,297.1 C1722.3,296.1 1724.0,293.9 1726.1,292.6 C1729.0,290.7 1732.0,288.8 1735.2,287.3 C1738.1,285.8 1741.4,285.1 1744.2,283.5 C1747.4,281.8 1750.4,279.6 1753.3,277.5 C1755.9,275.6 1758.1,273.1 1760.8,271.4 C1763.7,269.6 1767.1,268.7 1769.9,266.9 C1773.1,264.9 1775.7,261.9 1779.0,260.1 C1780.3,259.4 1782.2,260.1 1783.5,259.3 C1785.3,258.3 1786.2,255.9 1788.0,254.8 C1790.8,253.1 1794.3,252.7 1797.1,251.0 C1799.8,249.4 1801.8,246.3 1804.7,245.0 C1806.9,243.9 1810.0,245.0 1812.2,243.9 C1815.5,242.4 1818.2,239.5 1821.3,237.4 C1824.2,235.5 1827.5,234.2 1830.3,232.2 C1833.1,230.2 1835.1,227.3 1837.9,225.3 C1840.2,223.8 1843.1,223.1 1845.4,221.6 C1847.6,220.1 1849.2,217.5 1851.5,216.3 C1854.0,215.0 1857.2,215.0 1860.0,214.1 C1861.4,213.6 1863.0,213.1 1864.0,212.1 C1865.5,210.6 1865.9,207.9 1867.5,206.6 C1869.5,205.0 1872.7,205.0 1875.0,203.6 C1877.2,202.3 1878.8,199.9 1881.0,198.6 C1883.1,197.4 1885.9,197.3 1888.0,196.1 C1890.6,194.6 1892.5,192.0 1895.0,190.6 C1897.0,189.5 1899.6,189.6 1901.6,188.6 C1903.7,187.4 1905.7,185.7 1907.6,184.1 C1908.9,182.9 1909.7,181.1 1911.1,180.1 C1912.2,179.1 1913.9,179.0 1915.1,178.1 C1916.3,177.1 1916.8,175.3 1918.1,174.6 C1919.5,173.7 1921.5,173.9 1923.1,173.3 C1924.5,172.7 1925.8,171.9 1927.1,171.1 C1928.3,170.3 1929.4,169.4 1930.6,168.5 C1932.7,167.0 1934.9,165.5 1937.0,164.0" fill="none" stroke="#ff0000" stroke-width="7.3" stroke-linejoin="round" stroke-linecap="butt"/>
<path clip-path="url(#plot)" d="M166.0,352.0 C167.3,368.0 168.6,384.0 170.0,400.0 C171.3,415.0 172.4,430.0 173.9,445.0 C176.2,468.1 179.1,491.2 181.2,514.4 C183.7,542.9 185.5,571.5 187.7,600.0 C188.0,603.3 188.4,606.7 188.6,610.0 C190.4,634.8 192.1,659.6 193.9,684.4 C196.0,712.9 198.5,741.5 200.5,770.0 C202.2,794.8 203.6,819.6 205.0,844.4 C206.6,872.9 208.0,901.5 209.5,930.0 C210.8,954.8 211.7,979.6 213.4,1004.4 C215.3,1033.0 217.9,1061.5 220.2,1090.0 C221.2,1102.4 222.3,1114.8 223.5,1127.2 C224.8,1139.6 226.2,1152.0 227.7,1164.4 C229.3,1176.8 231.1,1189.2 232.8,1201.6 C233.4,1206.2 234.1,1210.9 234.7,1215.5 C234.9,1217.0 235.0,1218.6 235.3,1220.1 C235.6,1222.0 236.0,1223.9 236.5,1225.7 C237.0,1227.3 237.5,1229.0 238.3,1230.4 C238.6,1231.0 239.4,1232.0 239.9,1231.9 C240.6,1231.7 241.4,1230.3 242.0,1229.4 C242.7,1228.2 243.3,1226.8 243.8,1225.5 C244.4,1223.7 244.9,1221.9 245.3,1220.1 C245.8,1217.8 246.2,1215.4 246.7,1213.0 C247.4,1209.2 248.4,1205.4 248.9,1201.6 C250.7,1189.2 252.2,1176.8 253.6,1164.4 C255.0,1152.0 256.1,1139.6 257.3,1127.2 C258.4,1114.8 259.4,1102.4 260.5,1090.0 C262.9,1061.5 265.1,1032.9 267.8,1004.4 C270.2,979.6 272.9,954.8 275.7,930.0 C276.8,920.0 278.4,910.1 279.7,900.1 C280.5,893.9 281.2,887.8 282.0,881.6 C282.9,875.4 283.9,869.2 284.8,863.0 C285.7,856.8 286.6,850.6 287.6,844.4 C288.7,837.9 289.8,831.5 291.0,825.0 C292.0,820.0 293.2,815.1 294.3,810.1 C295.5,804.9 296.6,799.6 298.0,794.3 C299.4,789.0 301.0,783.8 302.7,778.5 C304.1,773.9 305.6,769.2 307.3,764.6 C308.7,761.1 310.1,757.6 312.0,754.4 C313.2,752.2 314.8,750.1 316.6,748.3 C318.2,746.8 320.3,745.9 322.2,744.6 C323.7,743.5 325.2,742.3 326.8,741.4 C328.3,740.6 330.1,739.2 331.5,739.5 C332.9,739.8 334.0,741.9 335.2,743.2 C336.5,744.6 337.6,746.1 338.9,747.4 C340.4,748.9 342.0,750.2 343.6,751.6 C345.1,753.0 346.5,754.7 348.2,755.8 C348.8,756.1 349.8,756.0 350.5,755.8 C351.4,755.5 352.1,754.2 352.9,754.4 C354.1,754.7 355.3,756.2 356.6,757.2 C357.7,757.9 358.7,759.3 359.8,759.5 C361.0,759.6 362.3,758.2 363.6,758.1 C365.2,758.0 367.0,759.0 368.7,758.8 C370.3,758.7 371.8,757.8 373.3,757.2 C375.2,756.3 377.1,755.5 378.9,754.4 C381.2,753.0 383.2,751.2 385.4,749.7 C387.5,748.3 389.8,747.1 391.9,745.5 C394.5,743.7 397.2,741.8 399.3,739.5 C401.3,737.4 402.2,734.3 404.0,732.1 C405.6,730.0 407.6,728.2 409.6,726.5 C411.3,725.0 413.4,723.8 415.1,722.3 C416.8,721.0 418.5,719.7 419.8,718.1 C421.8,715.6 423.1,712.4 425.0,709.8 C426.5,707.7 428.2,705.9 429.8,703.9 C431.7,701.6 433.4,699.3 435.3,697.1 C436.7,695.5 438.1,693.3 439.8,692.5 C441.1,692.0 443.2,693.7 444.4,693.0 C446.2,691.9 447.0,688.7 448.9,687.2 C450.5,686.0 453.0,686.0 454.9,685.0 C457.3,683.7 459.4,681.8 461.7,680.5 C463.7,679.3 465.7,678.3 467.8,677.4 C469.5,676.7 471.4,676.3 473.1,675.5 C474.9,674.5 476.4,672.8 478.3,671.8 C480.7,670.7 483.6,670.4 485.9,669.1 C488.1,667.9 489.7,665.6 491.9,664.6 C493.5,663.9 495.8,664.7 497.2,663.8 C498.6,663.0 498.9,660.0 500.2,659.3 C501.2,658.8 502.9,660.5 504.0,660.1 C506.2,659.2 507.9,656.8 510.1,655.5 C512.5,654.1 515.1,653.0 517.6,651.8 C520.1,650.5 522.9,649.6 525.2,648.0 C527.5,646.3 528.9,642.6 531.2,641.6 C532.5,641.1 534.3,643.7 535.7,643.4 C538.3,643.0 540.8,641.0 543.3,639.7 C545.3,638.6 547.3,637.3 549.3,636.2 C551.3,635.1 553.2,633.6 555.4,632.9 C557.0,632.3 559.1,633.2 560.7,632.6 C563.6,631.4 566.1,629.1 569.0,627.6 C571.4,626.2 573.9,624.9 576.5,623.8 C580.0,622.4 583.6,621.4 587.1,620.0 C590.7,618.6 594.1,616.9 597.7,615.5 C601.2,614.1 604.7,613.0 608.2,611.7 C612.1,610.3 615.7,608.0 619.6,607.2 C622.2,606.6 625.2,607.9 627.9,607.5 C631.5,606.9 634.9,605.0 638.5,604.2 C640.4,603.7 642.6,604.4 644.5,603.8 C647.1,603.1 649.4,601.2 652.0,600.4 C655.5,599.3 659.1,598.9 662.6,598.1 C665.7,597.4 668.6,596.3 671.7,595.8 C674.7,595.3 677.8,595.6 680.8,595.1 C684.8,594.4 688.8,592.9 692.8,592.0 C695.8,591.5 698.9,591.3 701.9,590.9 C705.4,590.4 708.9,589.8 712.5,589.3 C715.5,588.9 718.5,588.4 721.5,588.3 C724.4,588.1 727.2,588.2 730.0,588.5 C732.0,588.7 734.1,589.9 736.0,589.7 C738.6,589.4 741.0,587.4 743.6,587.0 C746.5,586.4 749.6,586.9 752.7,586.6 C755.2,586.5 757.8,586.3 760.2,585.7 C762.8,585.1 765.2,583.8 767.8,583.2 C770.7,582.4 773.8,582.1 776.8,581.7 C779.3,581.3 781.9,581.4 784.4,580.9 C786.4,580.5 788.4,579.5 790.4,579.1 C792.9,578.6 795.5,578.6 798.0,578.2 C800.5,577.7 803.0,576.5 805.5,576.4 C808.0,576.2 810.6,577.2 813.1,577.1 C815.6,577.1 818.1,576.6 820.6,576.1 C823.2,575.6 825.6,574.2 828.2,574.1 C831.2,573.9 834.3,575.3 837.2,575.2 C840.8,575.0 844.3,573.3 847.8,573.0 C850.3,572.8 852.9,573.6 855.4,573.7 C858.9,573.7 862.5,573.1 866.0,573.4 C868.5,573.5 871.0,574.7 873.5,574.9 C876.5,575.0 879.6,574.0 882.6,574.1 C885.6,574.2 888.6,575.3 891.6,575.6 C895.1,576.0 898.7,576.5 902.2,576.4 C904.2,576.3 906.2,575.1 908.2,575.2 C910.3,575.2 912.3,576.5 914.3,576.7 C916.3,576.8 918.3,576.0 920.3,576.1 C922.4,576.1 924.3,577.0 926.4,577.1 C928.4,577.3 930.4,577.0 932.4,577.1 C935.4,577.3 938.4,578.0 941.5,578.2 C945.5,578.4 949.5,578.4 953.6,578.2 C956.6,578.0 959.6,577.4 962.6,577.1 C965.6,576.9 968.7,576.7 971.7,576.7 C973.7,576.7 975.7,576.8 977.7,577.1 C981.8,577.7 985.8,579.2 989.8,579.4 C992.8,579.6 995.9,578.2 998.9,578.2 C1000.4,578.2 1002.1,578.7 1003.4,579.4 C1005.1,580.3 1006.2,582.7 1008.0,583.2 C1010.7,583.9 1014.0,583.3 1017.0,583.2 C1019.5,583.1 1022.0,582.8 1024.6,582.7 C1026.4,582.6 1028.2,582.5 1030.0,582.6 C1033.3,582.8 1036.7,583.3 1040.0,583.6 C1043.0,583.9 1046.1,584.8 1049.0,584.6 C1052.1,584.5 1055.0,583.0 1058.0,582.6 C1062.7,582.1 1067.4,582.6 1072.1,582.1 C1073.8,581.9 1075.4,580.6 1077.1,580.6 C1079.4,580.7 1081.7,582.5 1084.1,582.6 C1086.7,582.7 1089.4,581.6 1092.1,581.1 C1094.1,580.8 1096.1,580.0 1098.1,580.1 C1101.4,580.3 1104.8,581.9 1108.1,581.9 C1109.8,581.9 1111.4,580.3 1113.1,580.1 C1115.4,579.9 1117.8,581.0 1120.1,580.9 C1123.5,580.8 1126.8,580.0 1130.2,579.6 C1133.5,579.2 1136.8,578.8 1140.2,578.6 C1142.5,578.5 1144.9,579.0 1147.2,578.6 C1148.6,578.4 1149.7,576.8 1151.2,576.6 C1154.1,576.2 1157.2,576.8 1160.2,576.6 C1163.5,576.4 1166.9,575.6 1170.2,575.3 C1173.5,575.0 1176.9,575.0 1180.2,574.6 C1183.6,574.2 1186.9,573.5 1190.2,573.1 C1193.6,572.7 1196.9,572.6 1200.3,572.3 C1203.6,572.0 1206.9,571.4 1210.3,571.1 C1212.9,570.9 1215.6,570.9 1218.3,570.6 C1220.6,570.4 1223.0,570.0 1225.3,569.6 C1226.9,569.3 1228.4,568.9 1230.0,568.7 C1232.7,568.3 1235.5,568.5 1238.0,567.7 C1240.5,567.0 1242.5,564.7 1245.0,564.2 C1247.6,563.7 1250.4,564.8 1253.0,564.5 C1256.7,564.1 1260.3,562.6 1264.0,562.2 C1266.0,561.9 1268.1,562.6 1270.1,562.4 C1273.4,562.0 1276.8,561.0 1280.1,560.2 C1283.4,559.4 1286.7,558.4 1290.1,557.7 C1293.4,557.0 1296.8,556.6 1300.1,556.2 C1304.1,555.7 1308.2,555.9 1312.1,555.2 C1315.5,554.5 1318.7,552.8 1322.1,552.0 C1324.8,551.3 1327.5,550.7 1330.2,550.7 C1331.5,550.6 1332.9,551.9 1334.2,551.7 C1335.9,551.3 1337.4,549.4 1339.2,548.7 C1342.4,547.3 1345.8,546.2 1349.2,545.5 C1352.8,544.7 1356.6,544.8 1360.2,544.2 C1363.6,543.5 1366.9,542.5 1370.2,541.6 C1373.2,540.9 1376.2,539.6 1379.2,539.1 C1380.5,538.9 1381.9,539.8 1383.2,539.6 C1386.2,539.3 1389.3,538.4 1392.2,537.6 C1395.6,536.8 1398.9,535.6 1402.3,534.6 C1404.9,533.9 1407.6,533.2 1410.3,532.6 C1413.6,532.0 1417.1,532.0 1420.3,531.1 C1423.6,530.2 1426.8,527.9 1430.0,527.1 C1430.9,526.9 1431.8,528.3 1432.7,528.3 C1435.2,528.3 1437.9,527.8 1440.3,526.9 C1442.4,526.1 1444.1,524.0 1446.3,523.2 C1450.7,521.7 1455.4,521.3 1459.9,520.1 C1463.5,519.2 1467.0,517.9 1470.5,516.8 C1473.5,515.8 1476.5,514.6 1479.5,513.9 C1484.5,512.7 1489.7,512.3 1494.7,511.1 C1497.7,510.4 1500.7,509.1 1503.7,508.2 C1507.7,507.2 1511.8,506.4 1515.8,505.4 C1519.3,504.5 1522.9,503.7 1526.4,502.5 C1530.5,501.1 1534.3,498.8 1538.5,497.4 C1542.4,496.1 1546.6,495.9 1550.5,494.6 C1554.2,493.4 1557.4,491.0 1561.1,489.9 C1567.3,488.1 1573.8,487.7 1580.0,485.9 C1583.5,485.0 1586.6,482.5 1590.0,481.8 C1592.4,481.4 1595.2,483.0 1597.5,482.6 C1600.2,482.1 1602.5,480.1 1605.0,479.0 C1608.4,477.4 1611.6,475.7 1615.0,474.5 C1620.0,472.7 1625.1,471.5 1630.1,469.8 C1634.3,468.3 1638.4,465.8 1642.6,464.9 C1643.9,464.7 1645.3,466.6 1646.6,466.3 C1649.5,465.8 1652.2,463.7 1655.1,462.6 C1658.4,461.2 1661.8,460.0 1665.1,458.8 C1668.5,457.6 1671.8,456.4 1675.1,455.3 C1677.0,454.7 1679.0,454.5 1680.9,453.8 C1684.7,452.4 1688.3,450.4 1692.1,449.0 C1696.3,447.4 1700.7,446.4 1704.9,445.0 C1708.7,443.7 1712.4,442.3 1716.2,441.0 C1719.3,439.9 1722.5,438.7 1725.8,437.8 C1728.9,436.8 1732.2,436.3 1735.4,435.4 C1738.6,434.3 1741.7,432.7 1745.0,431.7 C1748.1,430.7 1751.6,430.6 1754.6,429.4 C1756.4,428.7 1757.6,426.6 1759.4,425.7 C1763.0,424.0 1766.8,422.6 1770.6,421.4 C1773.8,420.4 1777.1,420.2 1780.3,419.3 C1783.5,418.4 1786.6,417.0 1789.9,416.1 C1793.6,415.1 1797.4,414.6 1801.1,413.4 C1804.9,412.2 1808.5,410.2 1812.3,408.9 C1816.0,407.7 1819.9,407.1 1823.5,405.7 C1826.9,404.4 1829.8,402.2 1833.1,400.9 C1836.8,399.4 1840.7,398.7 1844.4,397.4 C1848.2,396.0 1851.8,394.3 1855.6,392.9 C1860.3,391.2 1865.5,390.2 1870.0,388.1 C1871.9,387.2 1872.9,384.8 1874.8,384.1 C1877.7,382.9 1881.3,383.4 1884.4,382.5 C1886.7,381.8 1888.6,380.0 1890.8,379.3 C1893.9,378.2 1897.3,377.7 1900.5,376.9 C1903.1,376.1 1905.9,375.6 1908.5,374.5 C1911.8,372.9 1914.7,370.0 1918.1,368.9 C1920.0,368.2 1922.4,369.6 1924.5,369.2 C1926.7,368.8 1928.8,367.4 1930.9,366.4 C1932.9,365.6 1935.0,364.7 1937.0,363.8" fill="none" stroke="#ff8000" stroke-width="7.3" stroke-linejoin="round" stroke-linecap="butt"/>
<text transform="translate(173.1,1553.2) scale(0.564,0.6634)" font-size="100" text-anchor="middle" fill="#000">300</text>
<text transform="translate(524.6,1553.2) scale(0.564,0.6634)" font-size="100" text-anchor="middle" fill="#000">400</text>
<text transform="translate(876.2,1553.2) scale(0.564,0.6634)" font-size="100" text-anchor="middle" fill="#000">500</text>
<text transform="translate(1227.7,1553.2) scale(0.564,0.6634)" font-size="100" text-anchor="middle" fill="#000">600</text>
<text transform="translate(1579.3,1553.2) scale(0.564,0.6634)" font-size="100" text-anchor="middle" fill="#000">700</text>
<text transform="translate(1930.8,1553.2) scale(0.564,0.6634)" font-size="100" text-anchor="middle" fill="#000">800</text>
<text transform="translate(772.0,1683.9) scale(0.7023,0.792)" font-size="100" fill="#000">Wavelength (nm)</text>
<text transform="translate(72.0,1092.2) rotate(-90) scale(0.7847,0.706)" font-size="100" fill="#000">Absorbance (a.u)</text>
<text transform="translate(792.2,156.0) scale(0.503,0.57)" font-size="100" fill="#ff0000">Fe<tspan dy="47.0">3</tspan><tspan dy="-47.0">O</tspan><tspan dy="47.0">4</tspan><tspan dy="-47.0">-Ag produced with PVP for a r value of 2</tspan></text>
<text transform="translate(759.1,656.0) scale(0.503,0.57)" font-size="100" fill="#ff8000">Fe<tspan dy="47.0">3</tspan><tspan dy="-47.0">O</tspan><tspan dy="47.0">4</tspan><tspan dy="-47.0">-Ag produced with PVP for a r value of 10</tspan></text>
<text transform="translate(668.0,1071.0) scale(0.503,0.57)" font-size="100" fill="#008000">Fe<tspan dy="47.0">3</tspan><tspan dy="-47.0">O</tspan><tspan dy="47.0">4</tspan><tspan dy="-47.0">-Ag produced without PVP for a r value of 10</tspan></text>
</svg></body></html>
